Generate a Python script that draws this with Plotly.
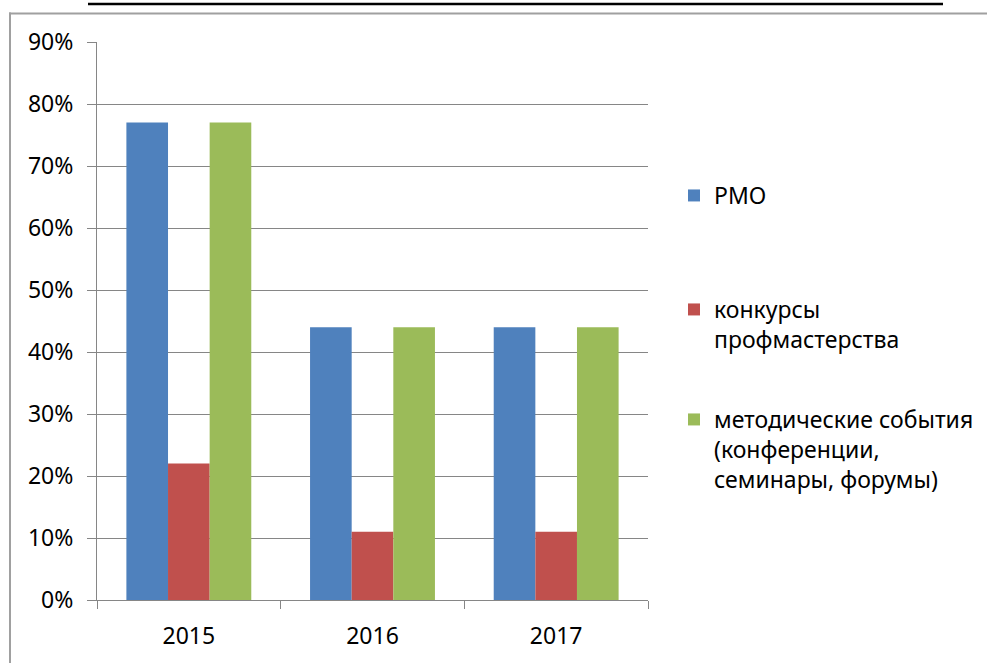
import plotly.graph_objects as go

years = ["2015", "2016", "2017"]
series_names = ["РМО", "конкурсы<br>профмастерства", "методические события<br>(конференции,<br>семинары, форумы)"]
rmo = [0.77, 0.44, 0.44]
konkursy = [0.22, 0.11, 0.11]
metod = [0.77, 0.44, 0.44]
colors = ["#4F81BD", "#C0504D", "#9BBB59"]

W, H = 987, 663
L, R, T, B = 97, 648, 42, 600
pw, ph = R - L, B - T

def px(x):
    return (x - L) / pw

def py(y):
    return (B - y) / ph

fig = go.Figure()
legends = ["legend", "legend2", "legend3"]
for vals, name, c, lg in zip([rmo, konkursy, metod], series_names, colors, legends):
    fig.add_trace(go.Bar(x=years, y=vals, name=name, marker=dict(color=c, line=dict(width=0)),
                         legend=lg, showlegend=True))

font = dict(family="Noto Sans, Open Sans, sans-serif", size=23, color="black")
leg_common = dict(xanchor="left", yanchor="top", bgcolor="rgba(0,0,0,0)", font=font,
                  itemclick=False, valign="top")
fig.update_layout(
    width=W, height=H,
    showlegend=True,
    margin=dict(l=L, r=W - R, t=T, b=H - B, autoexpand=False),
    paper_bgcolor="white", plot_bgcolor="white",
    bargap=0.32, bargroupgap=0,
    font=font,
    legend=dict(x=px(674), y=py(174), **leg_common),
    legend2=dict(x=px(674), y=py(288), **leg_common),
    legend3=dict(x=px(674), y=py(398), **leg_common),
    xaxis=dict(showline=True, linecolor="#868686", linewidth=1, ticks="outside",
               tickson="boundaries", ticklen=8, tickcolor="#868686",
               tickfont=font, showgrid=False, ticklabelstandoff=15),
    yaxis=dict(range=[0, 0.9], dtick=0.1, tickformat=".0%", showline=True,
               linecolor="#868686", linewidth=1, ticks="outside", ticklen=9,
               tickcolor="#868686", showgrid=True, gridcolor="#868686", gridwidth=1,
               tickfont=font, zeroline=False, ticklabelstandoff=9),
    shapes=[
        dict(type="rect", xref="paper", yref="paper", x0=px(9), x1=px(11),
             y0=py(663), y1=py(12.5), fillcolor="#a0a0a0", line=dict(width=0), layer="above"),
        dict(type="rect", xref="paper", yref="paper", x0=px(9), x1=px(987),
             y0=py(14.5), y1=py(12.5), fillcolor="#a0a0a0", line=dict(width=0), layer="above"),
        dict(type="rect", xref="paper", yref="paper", x0=px(88), x1=px(943),
             y0=py(5.3), y1=py(2.7), fillcolor="black", line=dict(width=0), layer="above"),
    ],
)
fig.write_html("out.html", post_script="document.body.style.margin='0';",
               config={"displayModeBar": False})
